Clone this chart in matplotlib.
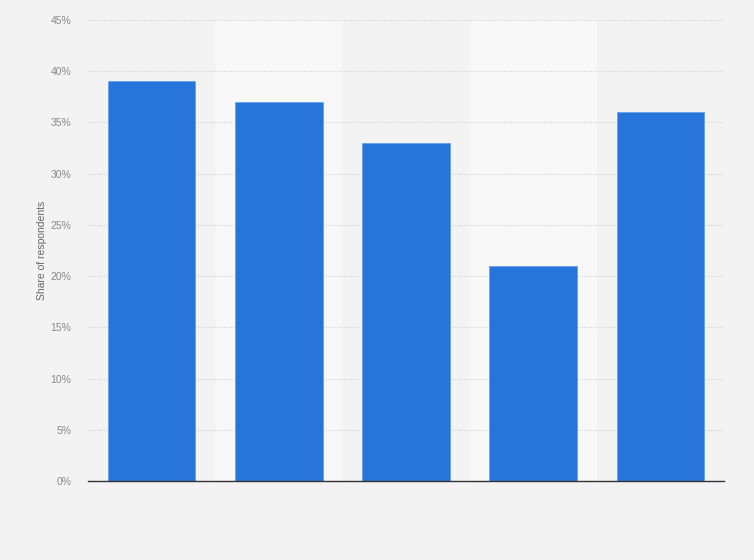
import matplotlib.pyplot as plt
import numpy as np

categories = ['A', 'B', 'C', 'D', 'E']
values = [39, 37, 33, 21, 36]
y_ticks = [0, 5, 10, 15, 20, 25, 30, 35, 40, 45]

plt.rcParams['font.family'] = ['Liberation Sans', 'DejaVu Sans']
fig = plt.figure(figsize=(7.54, 5.6), dpi=100, facecolor='#f3f3f3')
ax = fig.add_axes([88 / 754, 1 - 481 / 560, 636 / 754, 461 / 560])
ax.set_facecolor('#f3f3f3')

index = np.arange(len(categories))
for i in index:
    if i % 2 == 1:
        ax.axvspan(i - 0.5, i + 0.5, color='#f8f8f8', zorder=0, lw=0)

ax.bar(index, values, 0.69, color='#2775db', edgecolor='#6aa0ea', linewidth=0.6, zorder=3)

ax.set_xlim(-0.5, len(categories) - 0.5)
ax.set_ylim(0, 45)
ax.set_yticks(y_ticks)
ax.set_yticklabels([f'{t}%' for t in y_ticks], fontsize=7.5, color='#888888')
ax.set_xticks([])
ax.tick_params(axis='y', length=0, pad=12)
ax.yaxis.grid(True, color='#d6d6d6', linestyle=(0, (1, 1)), linewidth=0.8, zorder=1)
for s in ['top', 'right', 'left']:
    ax.spines[s].set_visible(False)
ax.spines['bottom'].set_color('#333333')
ax.spines['bottom'].set_linewidth(1)
ax.spines['bottom'].set_zorder(4)
ax.set_ylabel('Share of respondents', fontsize=7.5, color='#666666')
ax.yaxis.set_label_coords(-41 / 636, 0.5)

fig.savefig('out.png', dpi=100, facecolor=fig.get_facecolor())
